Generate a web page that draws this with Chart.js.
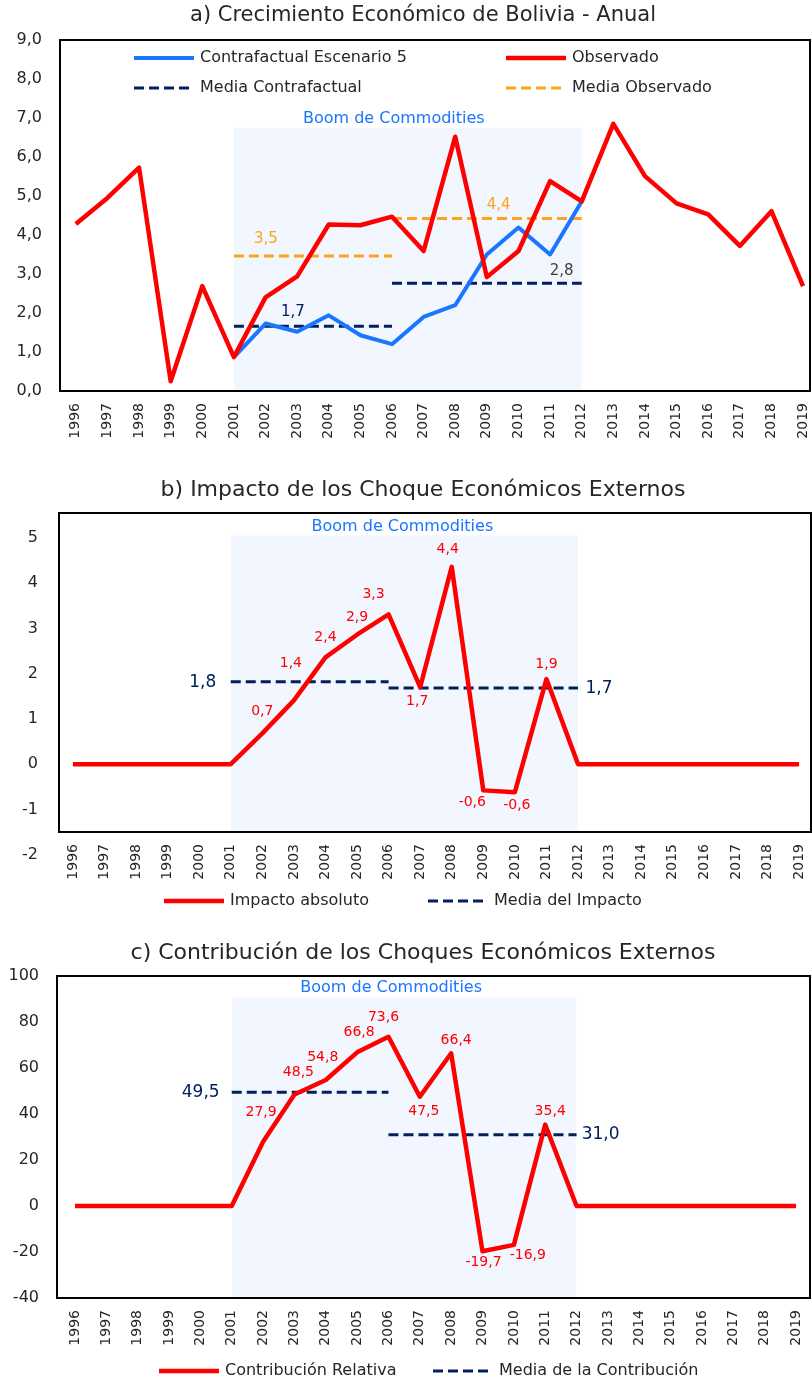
<!DOCTYPE html>
<html>
<head>
<meta charset="utf-8">
<script src="https://cdn.jsdelivr.net/npm/chart.js"></script>
<style>
  html, body { margin: 0; padding: 0; background: #fff; }
  body { width: 812px; height: 1383px; position: relative; overflow: hidden; }
  .box { position: absolute; left: 0; width: 812px; }
</style>
</head>
<body>
<div class="box" style="top:0;height:455px"><canvas id="chartA"></canvas></div>
<div class="box" style="top:468px;height:445px"><canvas id="chartB"></canvas></div>
<div class="box" style="top:932px;height:451px"><canvas id="chartC"></canvas></div>
<script>
// ---- Data ----

const years = [1996, 1997, 1998, 1999, 2000, 2001, 2002, 2003, 2004, 2005, 2006, 2007,
  2008, 2009, 2010, 2011, 2012, 2013, 2014, 2015, 2016, 2017, 2018, 2019];

// a) growth, %
const observado = [4.28, 4.95, 5.73, 0.25, 2.69, 0.87, 2.40, 2.94, 4.27, 4.25, 4.47, 3.59,
  6.52, 2.92, 3.59, 5.38, 4.86, 6.85, 5.51, 4.81, 4.53, 3.72, 4.61, 2.69];
const contrafactual = [null, null, null, null, null, 0.87, 1.73, 1.52, 1.94, 1.43, 1.20, 1.90,
  2.20, 3.50, 4.19, 3.50, 4.86, null, null, null, null, null, null, null];

// two sub-periods of the boom, used by the mean lines
const tramo1 = [2001, 2006];
const tramo2 = [2006, 2012];
const mediaContrafactual = [1.66, 2.76];
const mediaObservado = [3.46, 4.42];

// b) absolute impact
const impacto = [0, 0, 0, 0, 0, 0, 0.68, 1.41, 2.36, 2.86, 3.31, 1.70,
  4.36, -0.58, -0.62, 1.88, 0, 0, 0, 0, 0, 0, 0, 0];
const mediaImpacto = [1.82, 1.68];

// c) relative contribution, %
const contribucion = [0, 0, 0, 0, 0, 0, 27.9, 48.5, 54.8, 66.8, 73.6, 47.5,
  66.4, -19.7, -16.9, 35.4, 0, 0, 0, 0, 0, 0, 0, 0];
const mediaContribucion = [49.5, 31.0];

// shaded "Boom de Commodities" band
const boomYears = [2001, 2012];
const boomTopA = 6.75;
const boomTopB = 5.05;
const boomTopC = 90.8;

// y axis ticks
const ticksA = [0, 1, 2, 3, 4, 5, 6, 7, 8, 9];
const ticksB = [-2, -1, 0, 1, 2, 3, 4, 5];
const ticksC = [-40, -20, 0, 20, 40, 60, 80, 100];

// ---- Style ----

const FONT = 'DejaVu Sans';
const TEXT = '#262626';
const RED = '#FF0000';
const BLUE = '#1A75FF';
const NAVY = '#002060';
const ORANGE = '#FFA31A';
const GREY = '#404040';
const SHADE = '#F2F6FF';
const DASH = [10, 5];

const fmt = v => v.toFixed(1).replace('.', ',');
const pairs = (xs, ys) => xs.map((x, i) => ({ x: x, y: ys[i] }));
const segment = (span, v) => span.map(x => ({ x: x, y: v }));

// ---- Helpers for scales ----

function xScale(min, max, height) {
  return {
    type: 'linear', min: min, max: max,
    afterBuildTicks: s => { s.ticks = years.map(v => ({ value: v })); },
    afterFit: s => { s.height = height; s.paddingLeft = 0; s.paddingRight = 0; },
    grid: { display: false, drawTicks: false },
    border: { display: false },
    ticks: {
      autoSkip: false, minRotation: 90, maxRotation: 90, padding: 12,
      color: TEXT, font: { family: FONT, size: 14 },
      callback: v => String(v)
    }
  };
}

function yScale(min, max, ticks, cb, width, pad) {
  return {
    min: min, max: max,
    afterBuildTicks: s => { s.ticks = ticks.map(v => ({ value: v })); },
    afterFit: s => { s.width = width; },
    grid: { display: false, drawTicks: false },
    border: { display: false },
    ticks: { padding: pad, color: TEXT, font: { family: FONT, size: 16 }, callback: cb }
  };
}

// ---- Plugins ----

function titleText(text, y, size) {
  return {
    id: 'titleText',
    afterDraw(chart) {
      const ctx = chart.ctx;
      ctx.save();
      ctx.font = size + 'px ' + FONT;
      ctx.fillStyle = TEXT;
      ctx.textAlign = 'center';
      ctx.textBaseline = 'middle';
      ctx.fillText(text, 423, y);
      ctx.restore();
    }
  };
}

const framePlugin = {
  id: 'frame',
  afterDatasetsDraw(chart) {
    const { ctx, chartArea: a } = chart;
    ctx.save();
    ctx.strokeStyle = '#000';
    ctx.lineWidth = 2;
    ctx.strokeRect(a.left, a.top, a.right - a.left, a.bottom - a.top);
    ctx.restore();
  }
};

function boomLabel(dsIndex, dx) {
  return {
    id: 'boomLabel',
    afterDatasetsDraw(chart) {
      const pts = chart.getDatasetMeta(dsIndex).data;
      const ctx = chart.ctx;
      ctx.save();
      ctx.font = '16px ' + FONT;
      ctx.fillStyle = BLUE;
      ctx.textAlign = 'center';
      ctx.textBaseline = 'middle';
      ctx.fillText('Boom de Commodities', (pts[0].x + pts[1].x) / 2 + dx, pts[0].y - 9);
      ctx.restore();
    }
  };
}

// value labels next to points; offsets keyed by year
function pointLabels(dsIndex, offsets) {
  return {
    id: 'pointLabels',
    afterDatasetsDraw(chart) {
      const pts = chart.getDatasetMeta(dsIndex).data;
      const data = chart.data.datasets[dsIndex].data;
      const ctx = chart.ctx;
      ctx.save();
      ctx.font = '14px ' + FONT;
      ctx.fillStyle = RED;
      ctx.textAlign = 'center';
      ctx.textBaseline = 'middle';
      Object.keys(offsets).forEach(yr => {
        const i = years.indexOf(+yr);
        const o = offsets[yr];
        ctx.fillText(fmt(data[i].y), pts[i].x + o[0], pts[i].y + o[1]);
      });
      ctx.restore();
    }
  };
}

// labels for the mean segments
function meanNotes(items) {
  return {
    id: 'meanNotes',
    afterDatasetsDraw(chart) {
      const ctx = chart.ctx;
      ctx.save();
      ctx.textAlign = 'center';
      ctx.textBaseline = 'middle';
      items.forEach(it => {
        const p = chart.getDatasetMeta(it.ds).data[it.pt];
        const v = chart.data.datasets[it.ds].data[it.pt].y;
        ctx.font = it.size + 'px ' + FONT;
        ctx.fillStyle = it.color;
        ctx.fillText(fmt(v), p.x + it.dx, p.y + it.dy);
      });
      ctx.restore();
    }
  };
}

function lineLegend(items) {
  return {
    id: 'lineLegend',
    afterDraw(chart) {
      const ctx = chart.ctx;
      ctx.save();
      ctx.font = '16px ' + FONT;
      ctx.textBaseline = 'middle';
      items.forEach(it => {
        const ds = chart.data.datasets[it.ds];
        ctx.strokeStyle = ds.borderColor;
        ctx.lineWidth = ds.borderWidth;
        ctx.setLineDash(ds.borderDash || []);
        ctx.beginPath();
        ctx.moveTo(it.x, it.y);
        ctx.lineTo(it.x + 60, it.y);
        ctx.stroke();
        ctx.setLineDash([]);
        ctx.fillStyle = TEXT;
        ctx.fillText(ds.label, it.x + 66, it.y);
      });
      ctx.restore();
    }
  };
}

const baseOptions = {
  responsive: true,
  maintainAspectRatio: false,
  animation: false,
  elements: {
    point: { radius: 0, hoverRadius: 0 },
    line: { tension: 0, borderJoinStyle: 'round' }
  }
};

const noLegend = { legend: { display: false }, tooltip: { enabled: false }, title: { display: false } };

function shadeDataset(top) {
  return {
    label: 'Boom', data: segment(boomYears, top),
    borderColor: 'transparent', borderWidth: 0,
    backgroundColor: SHADE, fill: 'start'
  };
}

// ---- a) Crecimiento ----

new Chart(document.getElementById('chartA'), {
  type: 'line',
  data: {
    datasets: [
      { label: 'Observado', data: pairs(years, observado), borderColor: RED, borderWidth: 4.5 },
      { label: 'Contrafactual Escenario 5', data: pairs(years, contrafactual), borderColor: BLUE, borderWidth: 4 },
      { label: 'Media Contrafactual', data: segment(tramo1, mediaContrafactual[0]), borderColor: NAVY, borderWidth: 3, borderDash: DASH },
      { label: 'Media Contrafactual', data: segment(tramo2, mediaContrafactual[1]), borderColor: NAVY, borderWidth: 3, borderDash: DASH },
      { label: 'Media Observado', data: segment(tramo1, mediaObservado[0]), borderColor: ORANGE, borderWidth: 3, borderDash: DASH },
      { label: 'Media Observado', data: segment(tramo2, mediaObservado[1]), borderColor: ORANGE, borderWidth: 3, borderDash: DASH },
      shadeDataset(boomTopA)
    ]
  },
  options: Object.assign({}, baseOptions, {
    layout: { padding: { left: 0, right: 2, top: 40, bottom: 0 } },
    plugins: noLegend,
    scales: {
      x: xScale(1995.5, 2019.22, 64),
      y: yScale(0, 9, ticksA, v => fmt(v), 60, 18)
    }
  }),
  plugins: [
    framePlugin,
    titleText('a) Crecimiento Económico de Bolivia - Anual', 16, 21),
    boomLabel(6, -14),
    meanNotes([
      { ds: 2, pt: 0, dx: 59, dy: -14, color: NAVY, size: 15 },
      { ds: 3, pt: 1, dx: -20, dy: -12, color: GREY, size: 15 },
      { ds: 4, pt: 0, dx: 32, dy: -17, color: ORANGE, size: 15 },
      { ds: 5, pt: 1, dx: -83, dy: -14, color: ORANGE, size: 15 }
    ]),
    lineLegend([
      { ds: 1, x: 134, y: 58 },
      { ds: 0, x: 506, y: 58 },
      { ds: 2, x: 134, y: 88 },
      { ds: 4, x: 506, y: 88 }
    ])
  ]
});

// ---- b) Impacto ----

new Chart(document.getElementById('chartB'), {
  type: 'line',
  data: {
    datasets: [
      { label: 'Impacto absoluto', data: pairs(years, impacto), borderColor: RED, borderWidth: 4.5 },
      { label: 'Media del Impacto', data: segment(tramo1, mediaImpacto[0]), borderColor: NAVY, borderWidth: 3, borderDash: DASH },
      { label: 'Media del Impacto', data: segment(tramo2, mediaImpacto[1]), borderColor: NAVY, borderWidth: 3, borderDash: DASH },
      shadeDataset(boomTopB)
    ]
  },
  options: Object.assign({}, baseOptions, {
    layout: { padding: { left: 0, right: 1, top: 45, bottom: 30 } },
    plugins: noLegend,
    scales: {
      x: xScale(1995.56, 2019.38, 51),
      y: yScale(-1.5, 5.55, ticksB, v => String(v), 59, 21)
    }
  }),
  plugins: [
    framePlugin,
    titleText('b) Impacto de los Choque Económicos Externos', 22, 22),
    boomLabel(3, -2),
    pointLabels(0, {
      2002: [0, -22], 2003: [-3, -37], 2004: [0, -20], 2005: [0, -17], 2006: [-15, -20],
      2007: [-3, 14], 2008: [-4, -17], 2009: [-11, 12], 2010: [2, 13], 2011: [0, -15]
    }),
    meanNotes([
      { ds: 1, pt: 0, dx: -28, dy: 1, color: NAVY, size: 17 },
      { ds: 2, pt: 1, dx: 21, dy: 0, color: NAVY, size: 17 }
    ]),
    lineLegend([
      { ds: 0, x: 164, y: 433 },
      { ds: 1, x: 428, y: 433 }
    ])
  ]
});

// ---- c) Contribución ----

new Chart(document.getElementById('chartC'), {
  type: 'line',
  data: {
    datasets: [
      { label: 'Contribución Relativa', data: pairs(years, contribucion), borderColor: RED, borderWidth: 4.5 },
      { label: 'Media de la Contribución', data: segment(tramo1, mediaContribucion[0]), borderColor: NAVY, borderWidth: 3, borderDash: DASH },
      { label: 'Media de la Contribución', data: segment(tramo2, mediaContribucion[1]), borderColor: NAVY, borderWidth: 3, borderDash: DASH },
      shadeDataset(boomTopC)
    ]
  },
  options: Object.assign({}, baseOptions, {
    layout: { padding: { left: 0, right: 2, top: 44, bottom: 28 } },
    plugins: noLegend,
    scales: {
      x: xScale(1995.426, 2019.447, 57),
      y: yScale(-40, 100, ticksC, v => String(v), 57, 18)
    }
  }),
  plugins: [
    framePlugin,
    titleText('c) Contribución de los Choques Económicos Externos', 21, 22),
    boomLabel(3, -13),
    pointLabels(0, {
      2002: [-2, -29], 2003: [4, -22], 2004: [-3, -23], 2005: [2, -20], 2006: [-5, -19],
      2007: [4, 15], 2008: [5, -13], 2009: [1, 11], 2010: [14, 10], 2011: [5, -13]
    }),
    meanNotes([
      { ds: 1, pt: 0, dx: -31, dy: 0, color: NAVY, size: 17 },
      { ds: 2, pt: 1, dx: 24, dy: 0, color: NAVY, size: 17 }
    ]),
    lineLegend([
      { ds: 0, x: 159, y: 439 },
      { ds: 1, x: 433, y: 439 }
    ])
  ]
});
</script>
</body>
</html>
